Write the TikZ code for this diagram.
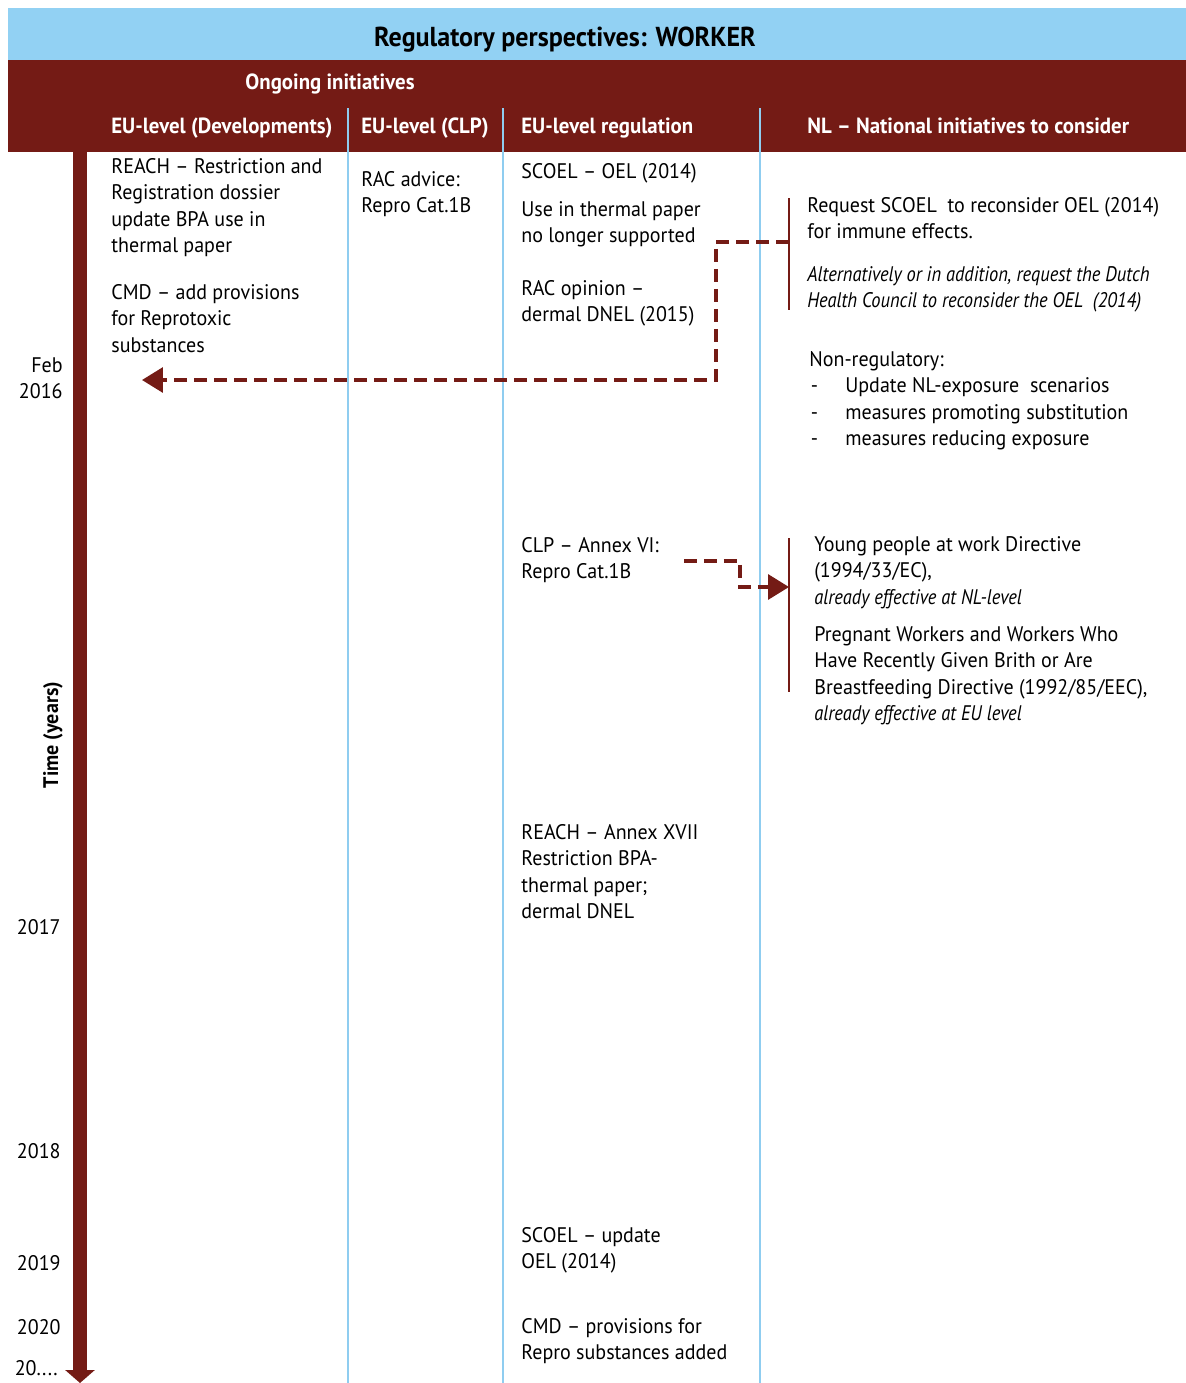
\documentclass[tikz,border=0pt]{standalone}
\usepackage{fontspec}
\setmainfont{PT Sans}[FakeStretch=0.95, ItalicFeatures={FakeStretch=0.875}]
\usetikzlibrary{positioning,calc,arrows.meta}
\definecolor{titleblue}{RGB}{146,209,243}
\definecolor{headerred}{RGB}{116,27,21}
\definecolor{lineblue}{RGB}{143,205,240}
\newcommand{\bodysize}{\fontsize{12}{15.1}\selectfont}
\newcommand{\headsize}{\fontsize{12.5}{15}\selectfont\bfseries}

\begin{document}
\begin{tikzpicture}[
    x=0.02cm, y=-0.02cm,
    entry/.style={anchor=north west, align=left, inner sep=0pt, font=\bodysize, execute at begin node=\strut},
    italicentry/.style={entry, font=\bodysize\itshape},
    yearlabel/.style={anchor=north east, align=right, inner sep=0pt, font=\bodysize, execute at begin node=\strut},
    colhead/.style={anchor=base west, inner sep=0pt, font=\headsize, text=white},
    colline/.style={draw=lineblue, line width=0.04cm},
    bracket/.style={draw=headerred, line width=0.045cm},
    timeaxis/.style={draw=headerred, line width=0.28cm, -{Triangle[width=0.58cm, length=0.26cm]}},
    dasharrow/.style={draw=headerred, line width=0.065cm, line join=miter, dash pattern=on 0.26cm off 0.14cm, -{Triangle[width=0.5cm, length=0.42cm]}}
]
\useasboundingbox (0,0) rectangle (1186,1383);

% title and header band
\fill[titleblue] (8,8) rectangle (1186,60);
\fill[headerred] (8,60) rectangle (1186,152);
\node[anchor=base, inner sep=0pt, font=\fontsize{15.6}{17}\selectfont\bfseries] (title) at (565,46) {Regulatory perspectives: WORKER};
\node[anchor=base, inner sep=0pt, font=\headsize, text=white] (ongoing) at (330,89) {Ongoing initiatives};
\node[colhead] (hdev) at (111,133) {EU-level (Developments)};
\node[colhead] (hclp) at (361,133) {EU-level (CLP)};
\node[colhead] (hreg) at (521,133) {EU-level regulation};
\node[colhead] (hnl) at (807,133) {NL -- National initiatives to consider};

% column lines
\foreach \cx in {348,503,760}
    \draw[colline] (\cx,108) -- (\cx,1383);

% time axis
\coordinate (axtop) at (80,152);
\coordinate (axbot) at (80,1383);
\draw[timeaxis] (axtop) -- (axbot);
\node[rotate=90, inner sep=0pt, font=\fontsize{12}{14}\selectfont\bfseries] (timelabel) at (53,735) {Time (years)};
\node[yearlabel] (y2016) at (63,357) {Feb\\2016};
\node[yearlabel] (y2017) at (61,916) {2017};
\node[yearlabel] (y2018) at (61,1140) {2018};
\node[yearlabel] (y2019) at (61,1252) {2019};
\node[yearlabel] (y2020) at (61,1316) {2020};
\node[anchor=base east, inner sep=0pt, font=\bodysize] (ylater) at (58,1375) {20....};

% EU-level (Developments)
\node[entry] (reach) at (111,158) {REACH -- Restriction and\\Registration dossier\\update BPA use in\\thermal paper};
\node[entry] (cmd) at (111,284) {CMD -- add provisions\\for Reprotoxic\\substances};

% EU-level (CLP)
\node[entry] (rac) at (361,171) {RAC advice:\\Repro Cat.1B};

% EU-level regulation
\node[entry] (scoel) at (521,160) {SCOEL -- OEL (2014)};
\node[entry] (thermal) at (521,201) {Use in thermal paper\\no longer supported};
\node[entry] (racop) at (521,280) {RAC opinion --\\dermal DNEL (2015)};
\node[entry] (clp) at (521,537) {CLP -- Annex VI:\\Repro Cat.1B};
\node[entry] (annex) at (521,824) {REACH -- Annex XVII\\Restriction BPA-\\thermal paper;\\dermal DNEL};
\node[entry] (scoelupd) at (521,1227) {SCOEL -- update\\OEL (2014)};
\node[entry] (cmdrep) at (521,1318) {CMD -- provisions for\\Repro substances added};

% NL - national initiatives
\node[entry] (request) at (807,197) {Request SCOEL\ \ to reconsider OEL (2014)\\for immune effects.};
\node[italicentry] (altern) at (807,266) {Alternatively or in addition, request the Dutch\\Health Council to reconsider the OEL\ \ (2014)};
\node[entry] (nonreg) at (809,351) {Non-regulatory:\\
    \makebox[0.72cm][l]{\hspace{0.03cm}-}Update NL-exposure\ \ scenarios\\
    \makebox[0.72cm][l]{\hspace{0.03cm}-}measures promoting substitution\\
    \makebox[0.72cm][l]{\hspace{0.03cm}-}measures reducing exposure};
\node[entry] (young) at (814,536) {Young people at work Directive\\(1994/33/EC),\\\textit{already effective at NL-level}};
\node[entry] (pregnant) at (814,626) {Pregnant Workers and Workers Who\\Have Recently Given Brith or Are\\Breastfeeding Directive (1992/85/EEC),\\\textit{already effective at EU level}};

% brackets and dashed connectors
\coordinate (br1top) at (789,198);
\coordinate (br1bot) at (789,310);
\coordinate (br1) at (789,242);
\coordinate (febtip) at (142,380);
\draw[bracket] (br1top) -- (br1bot);
\draw[dasharrow] (br1) -- ++(-73,0) |- (febtip);

\coordinate (br2top) at (789,538);
\coordinate (br2bot) at (789,692);
\coordinate (br2) at (789,587);
\coordinate (clpout) at (684,561);
\draw[bracket] (br2top) -- (br2bot);
\draw[dasharrow] (clpout) -- ++(56,0) |- (br2);

\end{tikzpicture}
\end{document}
